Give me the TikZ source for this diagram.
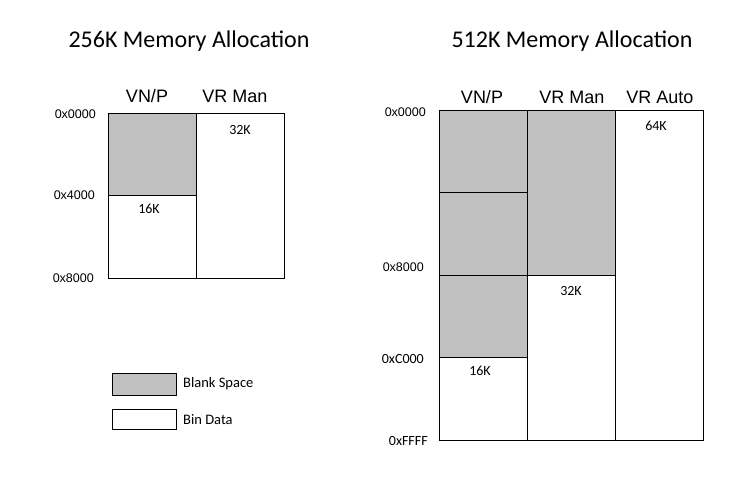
\documentclass[tikz,border=0pt]{standalone}
\usepackage{fontspec}
\setmainfont{Carlito}
\newfontfamily\arialf{Liberation Sans}
\begin{document}
\begin{tikzpicture}[x=1pt,y=-1pt,
  blank/.style={draw=black,line width=1pt,fill=blankgray},
  bin/.style={draw=black,line width=1pt,fill=white},
  title/.style={inner sep=0pt,font=\fontsize{24}{28}\selectfont},
  head/.style={inner sep=0pt,font=\arialf\fontsize{18}{21}\selectfont},
  addr/.style={inner sep=0pt,anchor=east,font=\arialf\fontsize{12.5}{15}\selectfont},
  addrc/.style={inner sep=0pt,anchor=east,font=\fontsize{14}{17}\selectfont},
  size/.style={inner sep=0pt,font=\fontsize{14}{17}\selectfont},
  legtext/.style={inner sep=0pt,anchor=west,font=\fontsize{14.5}{17}\selectfont}]
\definecolor{blankgray}{RGB}{192,192,192}
\useasboundingbox[fill=white] (0,0) rectangle (748,483);
% titles
\node[title] (t1) at (189,41) {256K Memory Allocation};
\node[title] (t2) at (572,41) {512K Memory Allocation};
% 256K diagram
\draw[blank] (108,113) rectangle (196,195);
\draw[bin] (108,195) rectangle (196,278);
\draw[bin] (196,113) rectangle (284,278);
\node[head] (h1) at (147,96) {VN/P};
\node[head] (h2) at (235,96) {VR Man};
\node[addr] (a1) at (96,114) {0x0000};
\node[addr] (a2) at (95,195) {0x4000};
\node[addr] (a3) at (94,278) {0x8000};
\node[size] (s1) at (149,209) {16K};
\node[size] (s2) at (240,130) {32K};
% 512K diagram
\draw[blank] (439,110) rectangle (527,192);
\draw[blank] (439,192) rectangle (527,275);
\draw[blank] (439,275) rectangle (527,357);
\draw[bin] (439,357) rectangle (527,440);
\draw[blank] (527,110) rectangle (615,275);
\draw[bin] (527,275) rectangle (615,440);
\draw[bin] (615,110) rectangle (703,440);
\node[head] (h3) at (482,97) {VN/P};
\node[head] (h4) at (572,97) {VR Man};
\node[head] (h5) at (660,97) {VR Auto};
\node[addr] (b1) at (426,112) {0x0000};
\node[addr] (b2) at (424,267) {0x8000};
\node[addrc] (b3) at (424,359) {0xC000};
\node[addrc] (b4) at (428,441) {0xFFFF};
\node[size] (s3) at (480,371) {16K};
\node[size] (s4) at (571,291) {32K};
\node[size] (s5) at (656,126) {64K};
% legend
\draw[blank] (112,373) rectangle (176,395);
\draw[bin] (112,409) rectangle (176,429);
\node[legtext] (l1) at (183,384) {Blank Space};
\node[legtext] (l2) at (183,420) {Bin Data};
\end{tikzpicture}
\end{document}
